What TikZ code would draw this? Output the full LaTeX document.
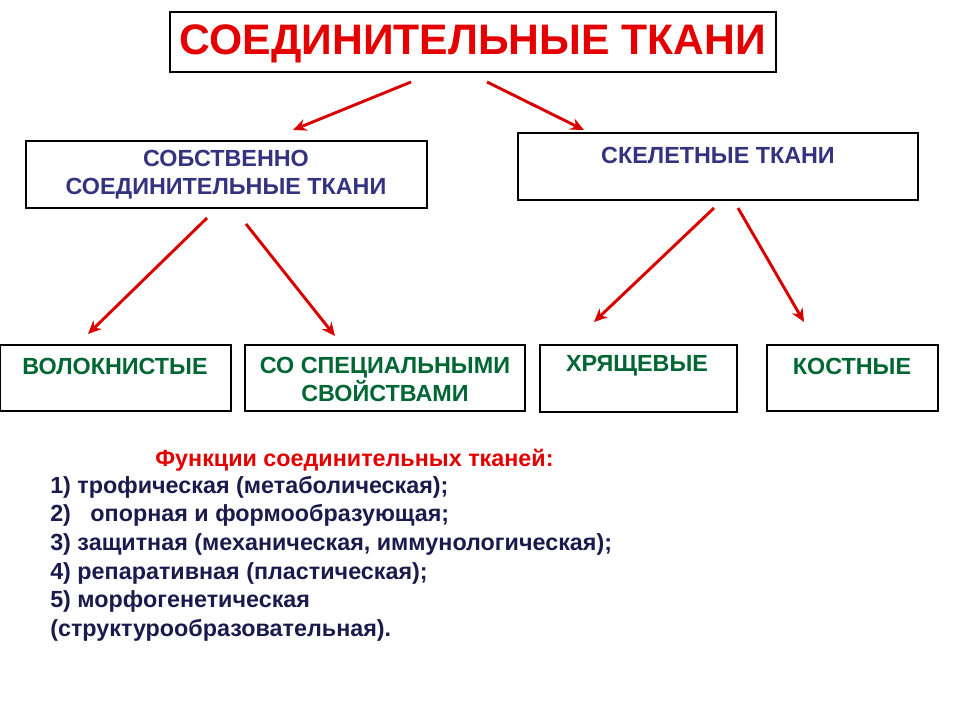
\documentclass[tikz,border=0pt]{standalone}
\usepackage{fontspec}
\usetikzlibrary{arrows.meta}
\setmainfont{Liberation Sans}
\begin{document}
\begin{tikzpicture}[x=0.75pt,y=-0.75pt,
 bx/.style={draw=black,line width=0.8pt},
 arr/.style={draw=red!85!black,line width=2.2pt,-{Stealth[length=10pt,width=9pt]}},
 bt/.style={font=\bfseries\fontsize{17.5}{21}\selectfont,align=center},
 lt/.style={font=\bfseries\fontsize{17.5}{20}\selectfont,anchor=west,inner sep=0pt}]
\useasboundingbox (0,0) rectangle (960,720);
\definecolor{dblue}{HTML}{333380}
\definecolor{dgreen}{HTML}{006633}
\definecolor{navy}{HTML}{1A1A4D}
\draw[bx] (170,12) rectangle (776,72);
\node[font=\bfseries\fontsize{32}{36}\selectfont,text=red!90!black] (t) at (473,44) {СОЕДИНИТЕЛЬНЫЕ ТКАНИ};
\draw[bx] (26,141) rectangle (427,208);
\node[bt,text=dblue] (a) at (226,175) {СОБСТВЕННО\\СОЕДИНИТЕЛЬНЫЕ ТКАНИ};
\draw[bx] (518,133) rectangle (918,200);
\node[bt,text=dblue] (b) at (718,155) {СКЕЛЕТНЫЕ ТКАНИ};
\draw[bx] (0,345) rectangle (231,411);
\node[bt,text=dgreen] (c1) at (115,366) {ВОЛОКНИСТЫЕ};
\draw[bx] (245,345) rectangle (525,411);
\node[bt,text=dgreen] (c2) at (385,379) {СО СПЕЦИАЛЬНЫМИ\\СВОЙСТВАМИ};
\draw[bx] (540,345) rectangle (737,412);
\node[bt,text=dgreen] (c3) at (637,366) {ХРЯЩЕВЫЕ};
\draw[bx] (767,345) rectangle (938,411);
\node[bt,text=dgreen] (c4) at (852,366) {КОСТНЫЕ};
\coordinate (p1) at (411,82); \coordinate (q1) at (293,130);
\coordinate (p2) at (487,82); \coordinate (q2) at (584,130);
\coordinate (p3) at (207,218); \coordinate (q3) at (88,334);
\coordinate (p4) at (246,224); \coordinate (q4) at (335,336);
\coordinate (p5) at (714,208); \coordinate (q5) at (594,322);
\coordinate (p6) at (738,208); \coordinate (q6) at (804,322);
\foreach \i in {1,...,6} \draw[arr] (p\i) -- (q\i);
\node[lt,text=red!90!black] (f) at (155,460) {Функции соединительных тканей:};
\node[lt,text=navy] (l1) at (50,487) {1) трофическая (метаболическая);};
\node[lt,text=navy] (l2) at (50,515) {2)\ \ \ опорная и формообразующая;};
\node[lt,text=navy] (l3) at (50,544) {3) защитная (механическая, иммунологическая);};
\node[lt,text=navy] (l4) at (50,573) {4) репаративная (пластическая);};
\node[lt,text=navy] (l5) at (50,601) {5) морфогенетическая};
\node[lt,text=navy] (l6) at (50,630) {(структурообразовательная).};
\end{tikzpicture}
\end{document}
